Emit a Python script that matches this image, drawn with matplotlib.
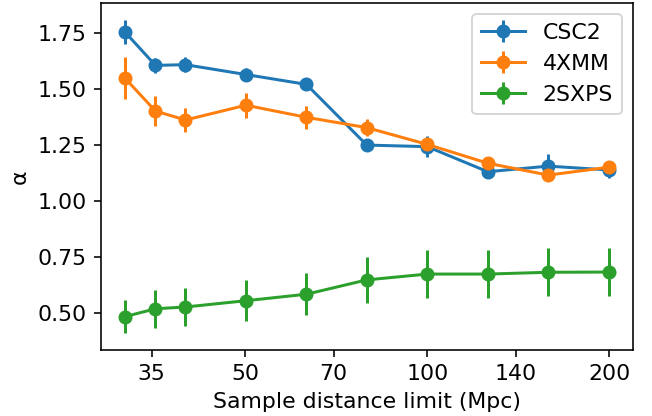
import matplotlib
matplotlib.use("Agg")
import matplotlib.pyplot as plt
from matplotlib.ticker import ScalarFormatter, NullFormatter

# sample distance limits (Mpc)
dist = [31.6, 35.5, 39.8, 50.1, 63.1, 79.4, 100.0, 125.9, 158.5, 199.5]

csc2 = [1.756, 1.607, 1.610, 1.566, 1.522, 1.251, 1.244, 1.132, 1.157, 1.140]
csc2_err = [0.054, 0.033, 0.033, 0.030, 0.026, 0.022, 0.048, 0.030, 0.055, 0.035]

xmm = [1.550, 1.403, 1.363, 1.429, 1.375, 1.329, 1.254, 1.170, 1.117, 1.152]
xmm_err = [0.095, 0.069, 0.052, 0.055, 0.050, 0.037, 0.025, 0.026, 0.026, 0.028]

sxps = [0.485, 0.520, 0.528, 0.556, 0.585, 0.649, 0.675, 0.675, 0.683, 0.684]
sxps_err = [0.073, 0.085, 0.085, 0.092, 0.095, 0.102, 0.106, 0.106, 0.107, 0.107]

xticks = [35, 50, 70, 100, 140, 200]
yticks = [0.50, 0.75, 1.00, 1.25, 1.50, 1.75]

plt.rcParams['font.size'] = 11

dpi = 144
fig = plt.figure(figsize=(652/dpi, 416/dpi), dpi=dpi)
ax = fig.add_axes([0.1545, 0.1587, 0.816, 0.8333])

ax.errorbar(dist, csc2, yerr=csc2_err, marker='o', label='CSC2')
ax.errorbar(dist, xmm, yerr=xmm_err, marker='o', label='4XMM')
ax.errorbar(dist, sxps, yerr=sxps_err, marker='o', label='2SXPS')

ax.set_xscale('log')
ax.set_xticks(xticks)
ax.xaxis.set_major_formatter(ScalarFormatter())
ax.xaxis.set_minor_formatter(NullFormatter())
ax.tick_params(axis='x', which='minor', bottom=False)
ax.set_yticks(yticks)
ax.set_ylim(0.336, 1.884)

ax.set_xlabel('Sample distance limit (Mpc)')
ax.set_ylabel('α')
ax.legend(loc='upper right')

fig.savefig('out.png', dpi=dpi)
